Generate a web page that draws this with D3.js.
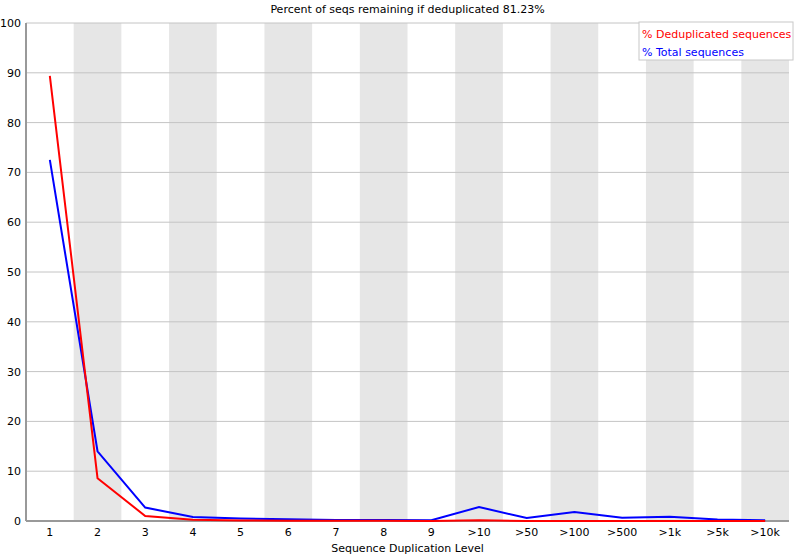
<!DOCTYPE html>
<html>
<head>
<meta charset="utf-8">
<script src="https://cdn.jsdelivr.net/npm/d3@7"></script>
<style>
body { margin: 0; background: #fff; }
text { font-family: "DejaVu Sans", sans-serif; }
</style>
</head>
<body>
<div id="chart"></div>
<script>
var levels = ["1","2","3","4","5","6","7","8","9",">10",">50",">100",">500",">1k",">5k",">10k"];
var dedup = [89.4, 8.6, 1.0, 0.25, 0.1, 0.07, 0.04, 0.03, 0.02, 0.15, 0.02, 0.01, 0.01, 0.02, 0.01, 0.01];
var total = [72.5, 14.0, 2.7, 0.8, 0.5, 0.35, 0.2, 0.2, 0.15, 2.8, 0.6, 1.8, 0.65, 0.85, 0.3, 0.15];
var yTicks = [0,10,20,30,40,50,60,70,80,90,100];
var title = "Percent of seqs remaining if deduplicated 81.23%";

var W = 800, H = 555;
var margin = {top: 23, right: 11, bottom: 34, left: 26},
    width = W - margin.left - margin.right,
    height = H - margin.top - margin.bottom;

var svg = d3.select("#chart").append("svg")
    .attr("width", W).attr("height", H);

var g = svg.append("g")
    .attr("transform", "translate(" + margin.left + "," + margin.top + ")");

var x = d3.scaleBand().domain(levels).range([0, width]).padding(0);
var y = d3.scaleLinear().domain([0, 100]).range([height, 0]);

// alternating stripes
g.selectAll(".band")
    .data(levels.filter(function(d, i) { return i % 2 == 1; }))
    .enter().append("rect")
    .attr("x", function(d) { return x(d); })
    .attr("y", 0)
    .attr("width", x.bandwidth())
    .attr("height", height)
    .attr("fill", "#e6e6e6");

// grid
g.selectAll(".grid")
    .data(yTicks)
    .enter().append("line")
    .attr("x1", 0).attr("x2", width)
    .attr("y1", function(d) { return y(d); })
    .attr("y2", function(d) { return y(d); })
    .attr("stroke", "#c4c4c4")
    .attr("stroke-width", 1);

// axes
var yAxis = g.append("g").call(d3.axisLeft(y).tickValues(yTicks).tickSize(0).tickPadding(5));
yAxis.select(".domain").remove();
yAxis.selectAll("text").attr("font-size", 11).attr("fill", "#000")
    .style("font-family", "DejaVu Sans, sans-serif");

var xAxis = g.append("g")
    .attr("transform", "translate(0," + height + ")")
    .call(d3.axisBottom(x).tickSize(0).tickPadding(7));
xAxis.select(".domain").remove();
xAxis.selectAll("text").attr("font-size", 11).attr("fill", "#000")
    .style("font-family", "DejaVu Sans, sans-serif");

g.append("line").attr("x1", 0).attr("x2", 0).attr("y1", 0).attr("y2", height)
    .attr("stroke", "#999").attr("stroke-width", 2);
g.append("line").attr("x1", 0).attr("x2", width).attr("y1", height).attr("y2", height)
    .attr("stroke", "#999").attr("stroke-width", 2);

// lines
var line = d3.line()
    .x(function(d, i) { return x(levels[i]) + x.bandwidth() / 2; })
    .y(function(d) { return y(d); });

g.append("path").datum(total)
    .attr("d", line).attr("fill", "none")
    .attr("stroke", "#0000ff").attr("stroke-width", 2);
g.append("path").datum(dedup)
    .attr("d", line).attr("fill", "none")
    .attr("stroke", "#ff0000").attr("stroke-width", 2);

// title & labels
svg.append("text")
    .attr("x", margin.left + width / 2).attr("y", 13)
    .attr("text-anchor", "middle").attr("font-size", 11)
    .text(title);

svg.append("text")
    .attr("x", margin.left + width / 2).attr("y", 552)
    .attr("text-anchor", "middle").attr("font-size", 11)
    .text("Sequence Duplication Level");

// legend
var leg = svg.append("g").attr("transform", "translate(639,22)");
leg.append("rect").attr("width", 154).attr("height", 38)
    .attr("fill", "#fff").attr("stroke", "#c8c8c8").attr("stroke-width", 1);
leg.append("text").attr("x", 3).attr("y", 16).attr("font-size", 11)
    .attr("fill", "#ff0000").text("% Deduplicated sequences");
leg.append("text").attr("x", 3).attr("y", 34).attr("font-size", 11)
    .attr("fill", "#0000ff").text("% Total sequences");
</script>
</body>
</html>
